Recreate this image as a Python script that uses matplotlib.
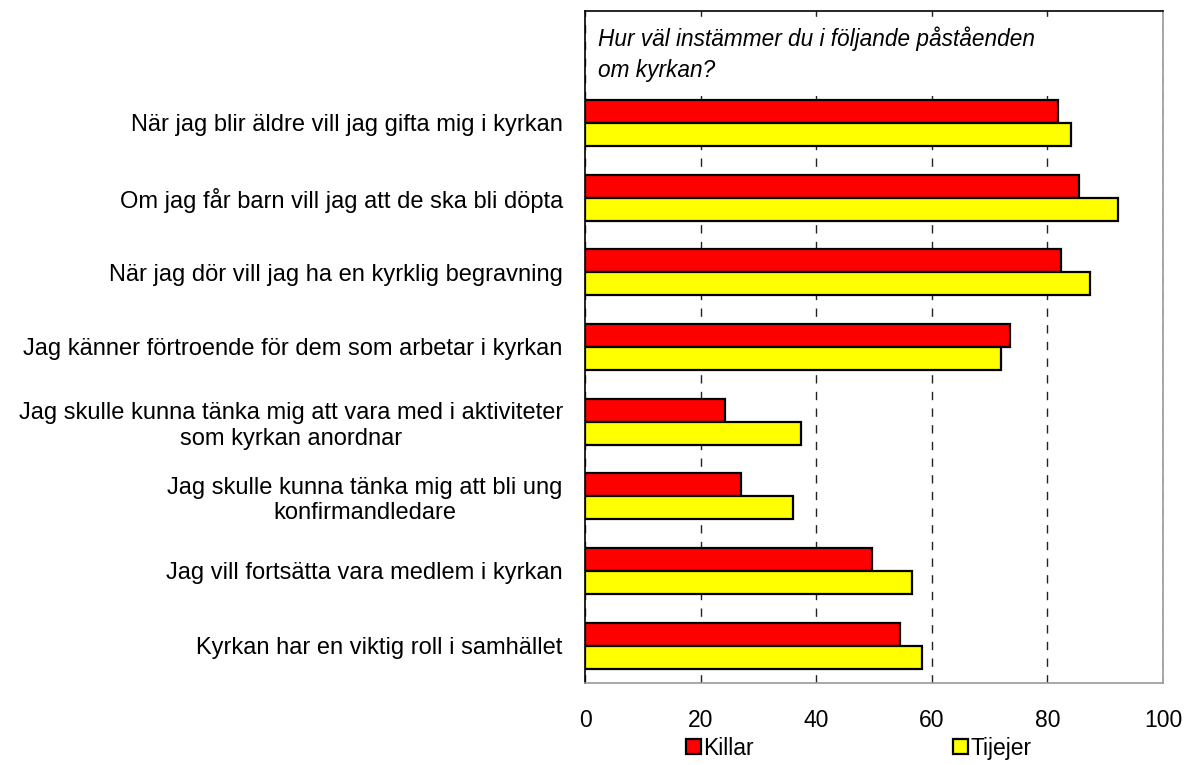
import matplotlib.pyplot as plt
import numpy as np

categories = [
    "När jag blir äldre vill jag gifta mig i kyrkan",
    "Om jag får barn vill jag att de ska bli döpta",
    "När jag dör vill jag ha en kyrklig begravning",
    "Jag känner förtroende för dem som arbetar i kyrkan",
    "Jag skulle kunna tänka mig att vara med i aktiviteter\nsom kyrkan anordnar",
    "Jag skulle kunna tänka mig att bli ung\nkonfirmandledare",
    "Jag vill fortsätta vara medlem i kyrkan",
    "Kyrkan har en viktig roll i samhället",
]
killar = [81.8, 85.4, 82.4, 73.5, 24.3, 27.0, 49.6, 54.5]
tjejer = [84.1, 92.3, 87.4, 72.0, 37.4, 36.0, 56.5, 58.3]
xticks = [0, 20, 40, 60, 80, 100]

plt.rcParams["font.family"] = ["Liberation Sans", "DejaVu Sans"]

fig = plt.figure(figsize=(11.88, 7.65), dpi=100)
ax = fig.add_axes([585 / 1188, 1 - 683 / 765, (1163 - 585) / 1188, (683 - 11) / 765])

y = np.arange(len(categories))
h = 0.31
ax.barh(y - h / 2, killar, height=h, color="#FF0000", edgecolor="black",
        linewidth=1.6, label="Killar", zorder=3)
ax.barh(y + h / 2, tjejer, height=h, color="#FFFF00", edgecolor="black",
        linewidth=1.6, label="Tijejer", zorder=3)

ax.set_xlim(0, 100)
ax.set_ylim(7.5, -1.5)
ax.set_yticks(y)
ax.set_yticklabels(categories, fontsize=17, ha="right", multialignment="center")
ax.set_xticks(xticks)
ax.set_xticklabels([str(t) for t in xticks], fontsize=16.5)
ax.tick_params(axis="x", length=0, pad=19)
ax.tick_params(axis="y", length=0, pad=16)
ax.xaxis.grid(True, linestyle=(0, (6, 6)), color="#222222", linewidth=1.0, zorder=0)

# white area behind the question text hides the gridlines there
ax.axhspan(-1.42, -0.36, xmin=0.003, xmax=0.997, color="white", zorder=2, linewidth=0)

for side in ["left", "top"]:
    ax.spines[side].set_color("black")
    ax.spines[side].set_linewidth(1.2)
for side in ["right", "bottom"]:
    ax.spines[side].set_color("#999999")
    ax.spines[side].set_linewidth(1.2)

ax.text(0.022, 0.977, "Hur väl instämmer du i följande påståenden\nom kyrkan?",
        transform=ax.transAxes, ha="left", va="top", style="italic",
        fontsize=16.3, linespacing=1.45, zorder=4)

fig.legend(loc="center", bbox_to_anchor=(0.723, 0.022), ncol=2, frameon=False,
           handlelength=0.65, handleheight=0.65, handletextpad=0.1,
           columnspacing=8.7, fontsize=16.5, borderpad=0)

fig.savefig("out.png", dpi=100)
